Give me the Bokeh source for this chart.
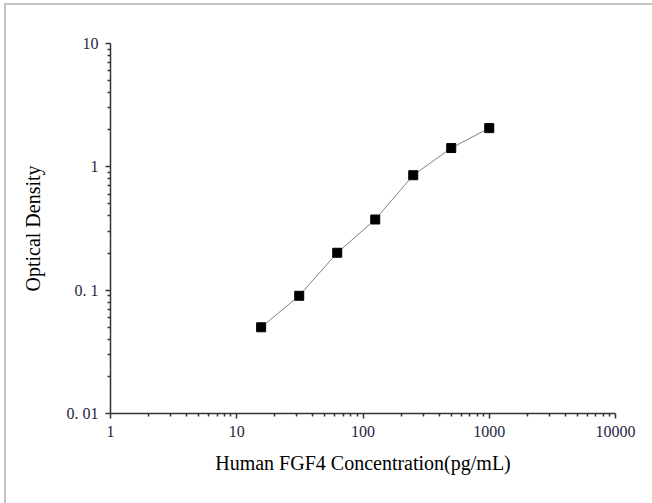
from bokeh.plotting import figure
from bokeh.models import FixedTicker
from bokeh.embed import file_html
from bokeh.resources import INLINE

# data
concentration = [15.6, 31.25, 62.5, 125, 250, 500, 1000]
optical_density = [0.050, 0.090, 0.201, 0.374, 0.855, 1.42, 2.06]

x_ticks = [1, 10, 100, 1000, 10000]
x_tick_labels = ["1", "10", "100", "1000", "10000"]
y_ticks = [0.01, 0.1, 1, 10]
y_tick_labels = ["0. 01", "0. 1", "1", "10"]

FONT = "Liberation Serif"

p = figure(width=652, height=503, x_axis_type="log", y_axis_type="log",
           x_range=(1, 10000), y_range=(0.01, 10),
           output_backend="svg", toolbar_location=None,
           min_border_left=110, min_border_right=37,
           min_border_top=43, min_border_bottom=90)

p.outline_line_color = None
p.xgrid.visible = False
p.ygrid.visible = False
p.background_fill_color = "white"
p.border_fill_color = "white"
p.border_fill_alpha = 0
# grey page frame on the left and top edges
p.styles = {"background-color": "white",
            "box-shadow": "inset 4px 3px 0 0 white, inset 6px 5px 0 0 #c4c4c4"}

p.line(concentration, optical_density, line_color="#808080", line_width=1)
p.scatter(concentration, optical_density, marker="square", size=9,
          fill_color="black", line_color="black")

def minor(ticks):
    out = []
    for t in ticks[:-1]:
        out += [t * m for m in range(2, 10)]
    return out

for ax, ticks, labels, title in ((p.xaxis[0], x_ticks, x_tick_labels, "Human FGF4 Concentration(pg/mL)"),
                                 (p.yaxis[0], y_ticks, y_tick_labels, "Optical Density")):
    ax.ticker = FixedTicker(ticks=ticks, minor_ticks=minor(ticks))
    ax.major_label_overrides = {t: l for t, l in zip(ticks, labels)}
    ax.axis_label = title
    ax.axis_label_text_font = FONT
    ax.axis_label_text_font_size = "20px"
    ax.axis_label_text_font_style = "normal"
    ax.axis_label_text_color = "black"
    ax.major_label_text_font = FONT
    ax.major_label_text_font_size = "16px"
    ax.major_label_text_color = "#262640"
    ax.axis_line_color = "#333333"
    ax.axis_line_width = 1.5
    ax.major_tick_line_color = "#333333"
    ax.major_tick_line_width = 1.5
    ax.minor_tick_line_color = "#333333"
    ax.minor_tick_line_width = 1.5
    ax.major_tick_out = 5
    ax.major_tick_in = 0
    ax.minor_tick_out = 3
    ax.minor_tick_in = 0

p.xaxis[0].major_label_standoff = 7
p.xaxis[0].axis_label_standoff = 12
p.yaxis[0].major_label_standoff = 7
p.yaxis[0].axis_label_standoff = 20

open("out.html", "w").write(file_html(p, INLINE))
